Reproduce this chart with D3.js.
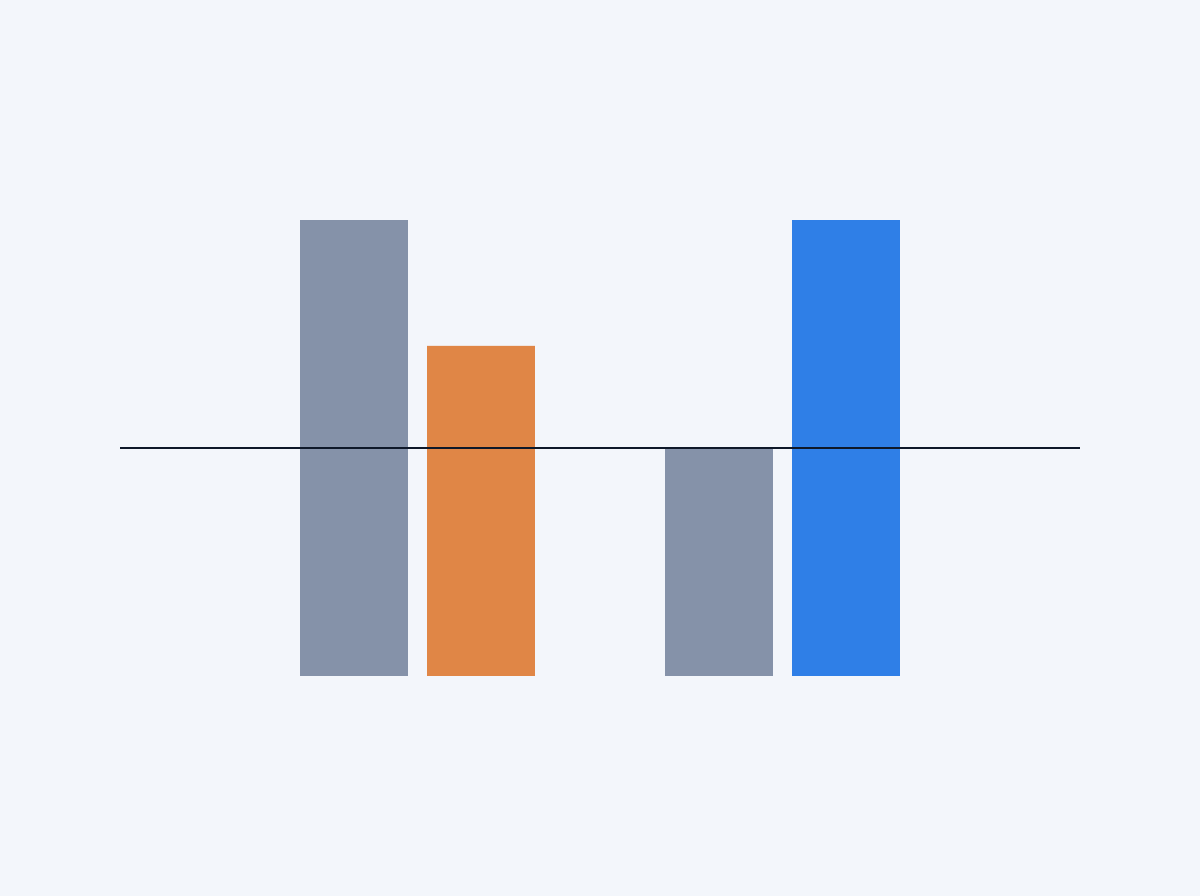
<!DOCTYPE html>
<html>
<head>
<meta charset="utf-8">
<script src="https://cdn.jsdelivr.net/npm/d3@7"></script>
<style>
  html, body { margin: 0; padding: 0; background: #f3f6fb; }
  svg { display: block; }
</style>
</head>
<body>
<svg width="1200" height="896"></svg>
<script>
// dados
var grupos = ["A", "B"];
var series = ["antes", "depois"];
var valoresA = [100, 72.4];
var valoresB = [50, 100];
var referencia = 50;
var cores = ["#8592a9", "#e08646", "#8592a9", "#2f7fe7"];

var svg = d3.select("svg"),
    margin = {top: 220, right: 120, bottom: 220, left: 120},
    width = +svg.attr("width") - margin.left - margin.right,
    height = +svg.attr("height") - margin.top - margin.bottom,
    g = svg.append("g").attr("transform", "translate(" + margin.left + "," + margin.top + ")");

var dados = [
  {grupo: "A", valores: valoresA},
  {grupo: "B", valores: valoresB}
];

// escala externa: grupos ocupam 300..900 na tela
var x0 = d3.scaleBand()
    .domain(grupos)
    .range([180, 780])
    .paddingInner(130 / 365)
    .paddingOuter(0);

var x1 = d3.scaleBand()
    .domain(series)
    .range([0, x0.bandwidth()])
    .paddingInner(19 / 127);

var y = d3.scaleLinear()
    .domain([0, 100])
    .range([height, 0]);

g.append("g")
  .selectAll("g")
  .data(dados)
  .enter().append("g")
    .attr("transform", function(d) { return "translate(" + x0(d.grupo) + ",0)"; })
  .selectAll("rect")
  .data(function(d, gi) {
    return series.map(function(s, i) { return {key: s, value: d.valores[i], cor: cores[gi * 2 + i]}; });
  })
  .enter().append("rect")
    .attr("x", function(d) { return x1(d.key); })
    .attr("y", function(d) { return y(d.value); })
    .attr("width", x1.bandwidth())
    .attr("height", function(d) { return height - y(d.value); })
    .attr("fill", function(d) { return d.cor; });

// linha de referência
g.append("line")
    .attr("x1", 0)
    .attr("x2", width)
    .attr("y1", y(referencia))
    .attr("y2", y(referencia))
    .attr("stroke", "#0e1829")
    .attr("stroke-width", 2);
</script>
</body>
</html>
